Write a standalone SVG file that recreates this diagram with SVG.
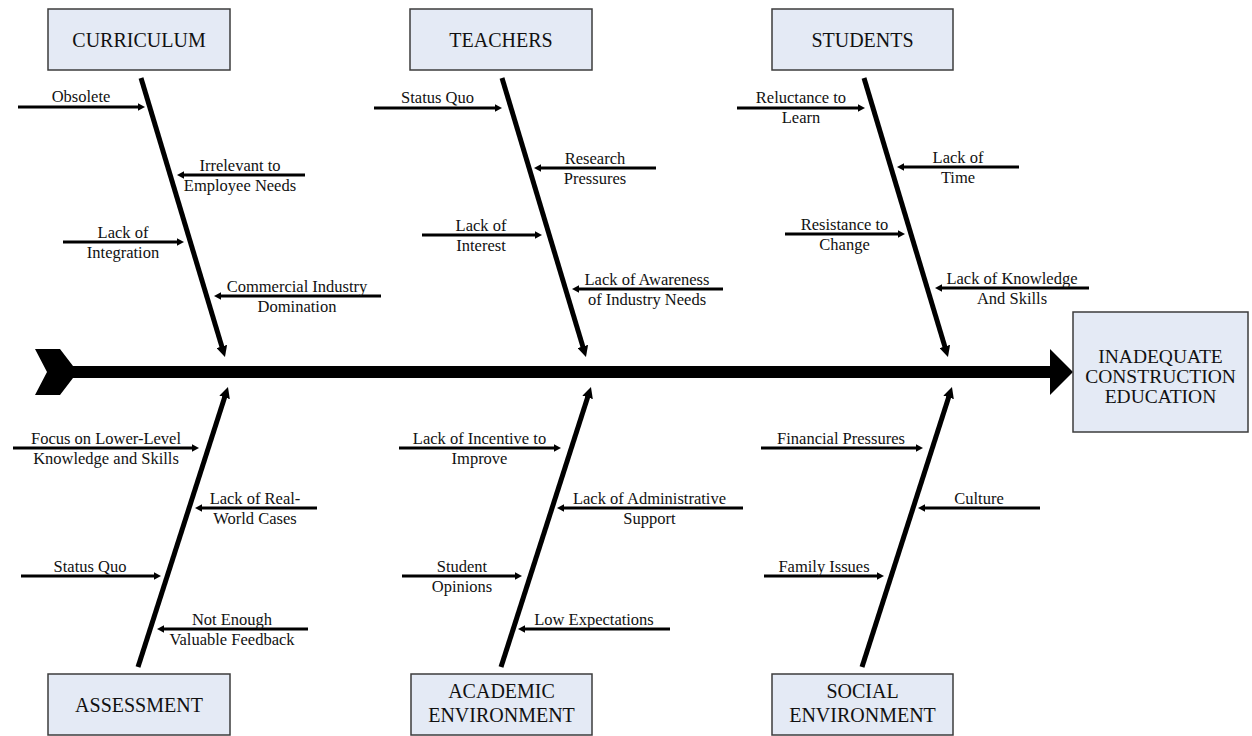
<svg xmlns="http://www.w3.org/2000/svg" width="1252" height="736" viewBox="0 0 1252 736">
<style>
.box{fill:#e4eaf5;stroke:#3c3c3c;stroke-width:1.5}
.bt{font-family:"Liberation Serif","Times New Roman",serif;font-size:20px;fill:#111;text-anchor:middle}
.mt{font-family:"Liberation Serif","Times New Roman",serif;font-size:19.5px;fill:#111;text-anchor:middle}
.lb{font-family:"Liberation Serif","Times New Roman",serif;font-size:16.5px;fill:#111;text-anchor:middle}
.bone{stroke:#000;stroke-width:5;fill:none;marker-end:url(#bh)}
.sub{stroke:#000;stroke-width:3;fill:none;marker-end:url(#sh)}
</style>
<defs>
<marker id="bh" markerUnits="userSpaceOnUse" markerWidth="12" markerHeight="11" refX="1" refY="5.5" orient="auto">
<path d="M0,0 L11,5.5 L0,11 Z" fill="#000"/>
</marker>
<marker id="sh" markerUnits="userSpaceOnUse" markerWidth="8" markerHeight="8" refX="1" refY="3.75" orient="auto">
<path d="M0,0 L7,3.75 L0,7.5 Z" fill="#000"/>
</marker>
</defs>
<rect width="1252" height="736" fill="#fff"/>

<g id="connectors">
<path id="spine" d="M35,349 L60,349 L73,366 L1050,366 L1050,349 L1073,372 L1050,395 L1050,378 L73,378 L60,395 L35,395 L47,372 Z" fill="#000"/>
<line class="bone" x1="141" y1="78" x2="222.1" y2="347.4"/>
<line class="bone" x1="502" y1="78" x2="583.1" y2="347.4"/>
<line class="bone" x1="864" y1="78" x2="945.1" y2="347.4"/>
<line class="bone" x1="138" y1="667" x2="224.9" y2="396.5"/>
<line class="bone" x1="501" y1="667" x2="587.9" y2="396.5"/>
<line class="bone" x1="862" y1="667" x2="948.9" y2="396.5"/>

<line class="sub" x1="18" y1="107" x2="139" y2="107"/>
<line class="sub" x1="305" y1="175" x2="183" y2="175"/>
<line class="sub" x1="63" y1="242" x2="178" y2="242"/>
<line class="sub" x1="381" y1="296" x2="220" y2="296"/>

<line class="sub" x1="374" y1="108" x2="496" y2="108"/>
<line class="sub" x1="656" y1="168" x2="540" y2="168"/>
<line class="sub" x1="422" y1="235" x2="536" y2="235"/>
<line class="sub" x1="723" y1="289" x2="578" y2="289"/>

<line class="sub" x1="737" y1="108" x2="859" y2="108"/>
<line class="sub" x1="1019" y1="167" x2="903" y2="167"/>
<line class="sub" x1="785" y1="234" x2="899" y2="234"/>
<line class="sub" x1="1089" y1="288" x2="941" y2="288"/>

<line class="sub" x1="13" y1="448" x2="193" y2="448"/>
<line class="sub" x1="317" y1="508" x2="201" y2="508"/>
<line class="sub" x1="21" y1="576" x2="155" y2="576"/>
<line class="sub" x1="308" y1="629" x2="163" y2="629"/>

<line class="sub" x1="399" y1="448" x2="555" y2="448"/>
<line class="sub" x1="743" y1="508" x2="563" y2="508"/>
<line class="sub" x1="402" y1="576" x2="516" y2="576"/>
<line class="sub" x1="670" y1="629" x2="524" y2="629"/>

<line class="sub" x1="761" y1="448" x2="917" y2="448"/>
<line class="sub" x1="1040" y1="508" x2="924" y2="508"/>
<line class="sub" x1="764" y1="576" x2="878" y2="576"/>
</g>

<g id="effect">
<rect class="box" x="1073" y="312" width="175" height="120"/>
<text class="mt"><tspan x="1160.5" y="363">INADEQUATE</tspan><tspan x="1160.5" y="383">CONSTRUCTION</tspan><tspan x="1160.5" y="403">EDUCATION</tspan></text>
</g>

<g id="curriculum"><rect class="box" x="48" y="9" width="182" height="61"/><text class="bt" x="139" y="47">CURRICULUM</text></g>
<g id="teachers"><rect class="box" x="410" y="9" width="182" height="61"/><text class="bt" x="501" y="47">TEACHERS</text></g>
<g id="students"><rect class="box" x="772" y="9" width="181" height="61"/><text class="bt" x="862.5" y="47">STUDENTS</text></g>
<g id="assessment"><rect class="box" x="48" y="674" width="182" height="61"/><text class="bt" x="139" y="712">ASSESSMENT</text></g>
<g id="academic-environment"><rect class="box" x="411" y="674" width="181" height="61"/><text class="bt"><tspan x="501.5" y="698">ACADEMIC</tspan><tspan x="501.5" y="722">ENVIRONMENT</tspan></text></g>
<g id="social-environment"><rect class="box" x="772" y="674" width="181" height="61"/><text class="bt"><tspan x="862.5" y="698">SOCIAL</tspan><tspan x="862.5" y="722">ENVIRONMENT</tspan></text></g>

<g id="obsolete"><text class="lb" x="81" y="102">Obsolete</text></g>
<g id="irrelevant"><text class="lb"><tspan x="240" y="171">Irrelevant to</tspan><tspan x="240" y="191">Employee Needs</tspan></text></g>
<g id="lack-integration"><text class="lb"><tspan x="123" y="238">Lack of</tspan><tspan x="123" y="258">Integration</tspan></text></g>
<g id="commercial"><text class="lb"><tspan x="297" y="292">Commercial Industry</tspan><tspan x="297" y="312">Domination</tspan></text></g>

<g id="status-quo-t"><text class="lb" x="437.5" y="103">Status Quo</text></g>
<g id="research"><text class="lb"><tspan x="595" y="164">Research</tspan><tspan x="595" y="184">Pressures</tspan></text></g>
<g id="lack-interest"><text class="lb"><tspan x="481" y="231">Lack of</tspan><tspan x="481" y="251">Interest</tspan></text></g>
<g id="lack-awareness"><text class="lb"><tspan x="647" y="285">Lack of Awareness</tspan><tspan x="647" y="305">of Industry Needs</tspan></text></g>

<g id="reluctance"><text class="lb"><tspan x="801" y="103">Reluctance to</tspan><tspan x="801" y="123">Learn</tspan></text></g>
<g id="lack-time"><text class="lb"><tspan x="958" y="163">Lack of</tspan><tspan x="958" y="183">Time</tspan></text></g>
<g id="resistance"><text class="lb"><tspan x="844.5" y="230">Resistance to</tspan><tspan x="844.5" y="250">Change</tspan></text></g>
<g id="lack-knowledge"><text class="lb"><tspan x="1012" y="284">Lack of Knowledge</tspan><tspan x="1012" y="304">And Skills</tspan></text></g>

<g id="focus-lower"><text class="lb"><tspan x="106" y="444">Focus on Lower-Level</tspan><tspan x="106" y="464">Knowledge and Skills</tspan></text></g>
<g id="real-world"><text class="lb"><tspan x="255" y="504">Lack of Real-</tspan><tspan x="255" y="524">World Cases</tspan></text></g>
<g id="status-quo-a"><text class="lb" x="90" y="572">Status Quo</text></g>
<g id="feedback"><text class="lb"><tspan x="232" y="625">Not Enough</tspan><tspan x="232" y="645">Valuable Feedback</tspan></text></g>

<g id="incentive"><text class="lb"><tspan x="479.5" y="444">Lack of Incentive to</tspan><tspan x="479.5" y="464">Improve</tspan></text></g>
<g id="admin-support"><text class="lb"><tspan x="649.5" y="504">Lack of Administrative</tspan><tspan x="649.5" y="524">Support</tspan></text></g>
<g id="student-opinions"><text class="lb"><tspan x="462" y="572">Student</tspan><tspan x="462" y="592">Opinions</tspan></text></g>
<g id="low-expectations"><text class="lb" x="594" y="625">Low Expectations</text></g>

<g id="financial"><text class="lb" x="841" y="444">Financial Pressures</text></g>
<g id="culture"><text class="lb" x="979" y="504">Culture</text></g>
<g id="family"><text class="lb" x="824" y="572">Family Issues</text></g>
</svg>
